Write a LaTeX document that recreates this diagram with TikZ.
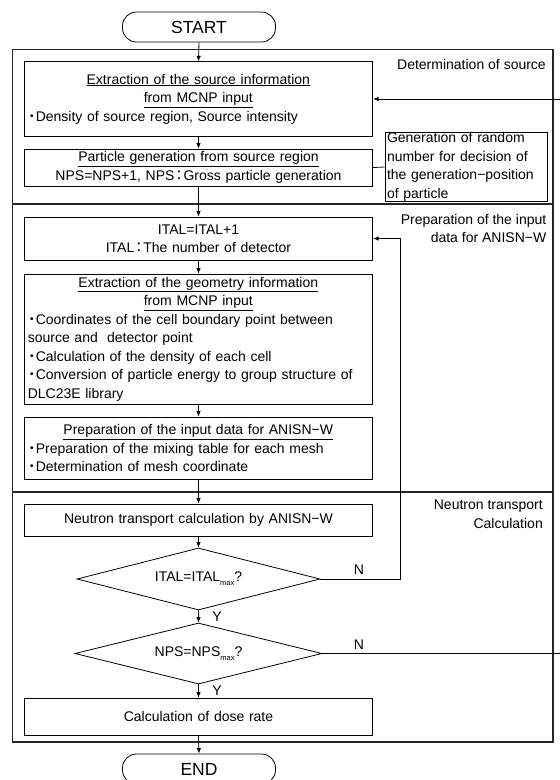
\documentclass[tikz,border=0pt]{standalone}
\usepackage{fontspec}
\setmainfont{Liberation Sans}
\newfontfamily\cjk{Noto Sans CJK JP}
\usetikzlibrary{shapes.geometric,arrows.meta}
\newcommand\bul{\makebox[8pt][c]{\cjk ・}}
\newcommand\fcolon{\makebox[9pt][c]{\cjk ：}}
\newcommand\ctr[1]{\makebox[341pt][c]{#1}}
\newcommand\lft[1]{\makebox[341pt][l]{#1}}
\newcommand\subm{\raisebox{-4pt}{\fontsize{7.5}{8}\selectfont max}}
\tikzset{
  body/.style={font=\fontsize{14}{18.5}\selectfont},
  box/.style={draw, line width=0.8pt, body, minimum width=348.4pt, text width=341.4pt,
    inner xsep=3.5pt, inner ysep=0pt},
  cbox/.style={box, align=center},
  lbox/.style={box, align=left},
  sidebox/.style={draw, line width=0.8pt, body, minimum width=162.7pt, text width=158.7pt,
    inner xsep=2pt, inner ysep=0pt, align=left, minimum height=68pt},
  dia/.style={diamond, draw, line width=0.8pt, body, inner sep=0pt, aspect=4},
  term/.style={draw, line width=0.8pt, rounded corners=14pt, minimum width=153pt,
    minimum height=30pt, font=\fontsize{17.5}{20}\selectfont},
  frame/.style={line width=1.6pt, black!85},
  arr/.style={-{Latex[length=5.5pt,width=4.5pt]}, line width=0.8pt},
  conn/.style={line width=0.8pt},
  lab/.style={body, inner sep=0pt},
  sec/.style={body, inner sep=0pt, align=right}
}
\begin{document}
\begin{tikzpicture}[x=1pt,y=-1pt]
\useasboundingbox (0,0) rectangle (560,780);
% frame and separators
\draw[frame] (12.3,49.3) rectangle (553,742);
\draw[frame] (12.3,204) -- (553,204);
\draw[frame] (12.3,492) -- (553,492);
% section labels
\node[sec, anchor=east] (s1) at (546,64) {Determination of source};
\node[sec, anchor=east] (s2) at (546.5,228.5) {Preparation of the input\\data for ANISN−W};
\node[sec, anchor=east] (s3) at (543,514) {Neutron transport\\Calculation};
% terminals
\node[term] (start) at (199,27) {START};
\node[term] (end) at (199,769) {END};
% boxes
\node[lbox, minimum height=74.3pt] (b1) at (198.5,98.9)
  {\ctr{\underline{Extraction of the source information}}\\
   \ctr{\underline{from MCNP input}}\\
   \bul Density of source region, Source intensity};
\node[cbox, minimum height=37pt] (b2) at (198.5,167.5)
  {\underline{Particle generation from source region}\\
   NPS=NPS+1, NPS\fcolon Gross particle generation};
\node[sidebox] (side) at (466.35,167)
  {Generation of random\\number for decision of\\the generation−position\\of particle};
\node[cbox, minimum height=43pt] (b3) at (198.5,238.5)
  {ITAL=ITAL+1\\ITAL\fcolon The number of detector};
\node[lbox, minimum height=130pt] (b4) at (198.5,339)
  {\ctr{\underline{Extraction of the geometry information}}\\
   \ctr{\underline{from MCNP input}}\\
   \lft{\bul Coordinates of the cell boundary point between}\\
   \lft{source and \ detector point}\\
   \lft{\bul Calculation of the density of each cell}\\
   \lft{\bul Conversion of particle energy to group structure of}\\
   \lft{DLC23E library}};
\node[lbox, minimum height=62pt] (b5) at (198.5,448)
  {\ctr{\underline{Preparation of the input data for ANISN−W}}\\
   \lft{\bul Preparation of the mixing table for each mesh}\\
   \lft{\bul Determination of mesh coordinate}};
\node[cbox, minimum height=32pt] (b6) at (198.5,520)
  {Neutron transport calculation by ANISN−W};
\node[dia, minimum width=243pt, minimum height=62pt] (d1) at (198.5,579)
  {ITAL=ITAL\subm?};
\node[dia, minimum width=247pt, minimum height=61pt] (d2) at (198.5,653.5)
  {NPS=NPS\subm?};
\node[cbox, minimum height=37pt] (dose) at (198.5,716.5)
  {Calculation of dose rate};
% main flow
\draw[arr] (start.south) -- (b1.north);
\draw[arr] (b1.south) -- (b2.north);
\draw[arr] (b2.south) -- (b3.north);
\draw[arr] (b3.south) -- (b4.north);
\draw[arr] (b4.south) -- (b5.north);
\draw[arr] (b5.south) -- (b6.north);
\draw[arr] (b6.south) -- (d1.north);
\draw[arr] (d1.south) -- (d2.north);
\draw[arr] (d2.south) -- (dose.north);
\draw[arr] (dose.south) -- (end.north);
\draw[conn] (b2.east) -- (side.west);
% loops
\coordinate (r1) at (400.7,579);
\coordinate (r2) at (566,653.5);
\draw[arr] (d1.east) -- (r1) |- (b3.east);
\draw[arr] (d2.east) -- (r2) |- (b1.east);
% labels
\node[lab] (y1) at (217,617) {Y};
\node[lab] (y2) at (217,691) {Y};
\node[lab] (n1) at (359,570) {N};
\node[lab] (n2) at (359,645) {N};
\end{tikzpicture}
\end{document}
